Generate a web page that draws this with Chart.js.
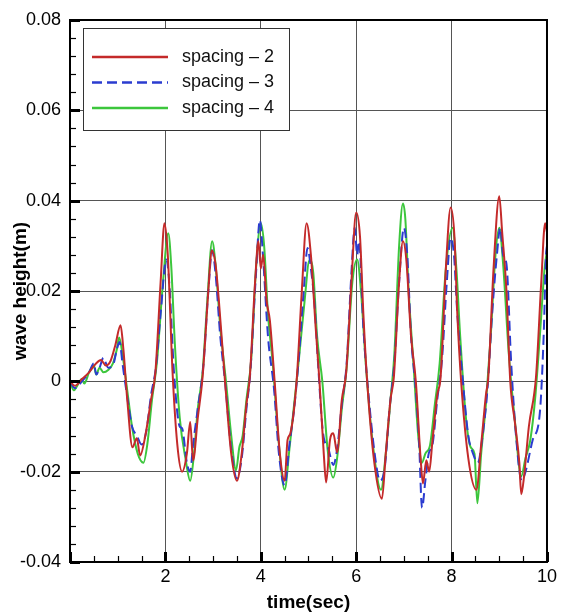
<!DOCTYPE html>
<html>
<head>
<meta charset="utf-8">
<script src="https://cdn.jsdelivr.net/npm/chart.js@4.4.1/dist/chart.umd.min.js"></script>
<style>
  html, body { margin: 0; padding: 0; background: #fff; }
  #wrap { width: 561px; height: 616px; }
</style>
</head>
<body>
<div id="wrap"><canvas id="chart" width="561" height="616"></canvas></div>
<script>
// wave height vs time for three spacings
const labels = ['spacing \u2013 2', 'spacing \u2013 3', 'spacing \u2013 4'];
const xTicks = [2, 4, 6, 8, 10];
const yTicks = [-0.04, -0.02, 0, 0.02, 0.04, 0.06, 0.08];

const time2 = [0, 0.1, 0.25, 0.4, 0.55, 0.65, 0.75, 0.85, 0.95, 1.06, 1.12, 1.2, 1.31, 1.4, 1.47, 1.58, 1.7, 1.79, 1.9, 1.98,
  2.05, 2.15, 2.25, 2.35, 2.45, 2.52, 2.58, 2.68, 2.78, 2.9, 2.97, 3.05, 3.12, 3.25, 3.38, 3.5, 3.6, 3.7, 3.77, 3.88, 3.95,
  4.0, 4.05, 4.12, 4.19, 4.29, 4.4, 4.5, 4.56, 4.62, 4.75, 4.86, 4.96, 5.05, 5.15, 5.23, 5.32, 5.37, 5.45, 5.52, 5.6, 5.7,
  5.79, 5.9, 6.0, 6.08, 6.15, 6.23, 6.38, 6.54, 6.62, 6.72, 6.79, 6.9, 6.98, 7.05, 7.15, 7.25, 7.35, 7.4, 7.47, 7.53, 7.6,
  7.7, 7.77, 7.88, 7.98, 8.06, 8.12, 8.2, 8.35, 8.52, 8.62, 8.72, 8.77, 8.88, 9.0, 9.06, 9.15, 9.23, 9.33, 9.42, 9.46, 9.52,
  9.62, 9.77, 9.88, 9.96, 10.0];
const wave2 = [0, -0.001, 0.0005, 0.002, 0.004, 0.0047, 0.0035, 0.0045, 0.008, 0.0124, 0.007, -0.004, -0.0146, -0.0126, -0.0164, -0.012, -0.004, 0.002, 0.022, 0.035,
  0.028, 0.002, -0.014, -0.020, -0.016, -0.009, -0.0175, -0.008, 0.001, 0.020, 0.029, 0.026, 0.018, 0.000, -0.016, -0.022, -0.016, -0.005, 0.001, 0.022, 0.031,
  0.025, 0.028, 0.018, 0.0135, 0.000, -0.016, -0.022, -0.013, -0.0115, 0.000, 0.020, 0.035, 0.028, 0.012, 0.000, -0.016, -0.0224, -0.013, -0.0115, -0.0157, -0.004,
  0.002, 0.022, 0.0374, 0.032, 0.015, 0.000, -0.018, -0.026, -0.016, -0.004, 0.001, 0.022, 0.031, 0.027, 0.010, 0.000, -0.017, -0.0226, -0.0175, -0.020, -0.013,
  -0.003, 0.001, 0.025, 0.0385, 0.032, 0.015, 0.000, -0.017, -0.024, -0.014, -0.003, 0.001, 0.025, 0.041, 0.033, 0.020, 0.000, -0.0093, -0.018, -0.025, -0.021,
  -0.010, 0.001, 0.022, 0.035, 0.033];

const time3 = [0, 0.1, 0.25, 0.4, 0.5, 0.55, 0.62, 0.7, 0.8, 0.9, 0.98, 1.04, 1.1, 1.18, 1.3, 1.4, 1.5, 1.6, 1.7, 1.8, 1.9, 2.02,
  2.08, 2.18, 2.3, 2.35, 2.45, 2.52, 2.58, 2.68, 2.8, 2.9, 2.98, 3.05, 3.15, 3.25, 3.38, 3.5, 3.6, 3.7, 3.78, 3.9, 3.98,
  4.05, 4.15, 4.28, 4.38, 4.5, 4.6, 4.7, 4.78, 4.9, 4.98, 5.05, 5.12, 5.2, 5.3, 5.42, 5.52, 5.6, 5.7, 5.8, 5.9, 5.97,
  6.02, 6.06, 6.15, 6.25, 6.4, 6.5, 6.6, 6.7, 6.8, 6.9, 7.0, 7.07, 7.15, 7.25, 7.32, 7.38, 7.45, 7.52, 7.6, 7.7, 7.8, 7.9,
  7.98, 8.05, 8.12, 8.22, 8.35, 8.45, 8.55, 8.65, 8.75, 8.85, 8.95, 9.02, 9.08, 9.15, 9.25, 9.35, 9.47, 9.55, 9.7, 9.85,
  9.93, 9.98, 10.0];
const wave3 = [0, -0.0015, 0, 0.002, 0.004, 0.0015, 0.003, 0.0052, 0.003, 0.0035, 0.007, 0.0087, 0.004, -0.002, -0.010, -0.012, -0.014, -0.011, -0.003, 0.003, 0.015, 0.027,
  0.022, 0.002, -0.010, -0.0104, -0.018, -0.020, -0.014, -0.006, 0.004, 0.020, 0.029, 0.024, 0.010, 0.000, -0.015, -0.0215, -0.017, -0.006, 0.002, 0.024, 0.0357,
  0.027, 0.010, -0.002, -0.016, -0.023, -0.014, -0.006, 0.003, 0.020, 0.0295, 0.025, 0.018, 0.004, -0.011, -0.015, -0.0185, -0.015, -0.005, 0.004, 0.024, 0.034,
  0.028, 0.031, 0.012, -0.002, -0.017, -0.022, -0.019, -0.006, 0.004, 0.022, 0.034, 0.028, 0.010, -0.002, -0.014, -0.028, -0.022, -0.016, -0.014, -0.004, 0.005, 0.022,
  0.0317, 0.028, 0.015, 0.002, -0.012, -0.016, -0.018, -0.012, -0.002, 0.015, 0.028, 0.034, 0.028, 0.026, 0.004, -0.012, -0.022, -0.020, -0.013, -0.007,
  0.010, 0.028, 0.030];

const time4 = [0, 0.08, 0.15, 0.25, 0.3, 0.4, 0.5, 0.55, 0.62, 0.7, 0.8, 0.9, 0.98, 1.03, 1.1, 1.2, 1.3, 1.42, 1.54, 1.62, 1.72, 1.82, 1.95,
  2.06, 2.12, 2.2, 2.3, 2.42, 2.52, 2.6, 2.68, 2.78, 2.88, 2.98, 3.05, 3.15, 3.27, 3.38, 3.48, 3.55, 3.62, 3.7, 3.8, 3.9,
  4.0, 4.07, 4.15, 4.25, 4.38, 4.5, 4.6, 4.7, 4.8, 4.92, 5.02, 5.1, 5.18, 5.29, 5.4, 5.52, 5.6, 5.7, 5.8, 5.92, 6.02, 6.1,
  6.2, 6.35, 6.52, 6.62, 6.72, 6.8, 6.9, 6.98, 7.03, 7.1, 7.2, 7.3, 7.38, 7.45, 7.55, 7.65, 7.75, 7.88, 8.02, 8.1, 8.18,
  8.3, 8.4, 8.48, 8.54, 8.62, 8.72, 8.82, 8.92, 9.0, 9.08, 9.2, 9.32, 9.46, 9.55, 9.65, 9.75, 9.85, 9.95, 10.0];
const wave4 = [0, -0.002, -0.001, 0.0005, -0.0005, 0.002, 0.0035, 0.0015, 0.003, 0.002, 0.0025, 0.004, 0.007, 0.0097, 0.006, -0.002, -0.010, -0.016, -0.018, -0.014, -0.004, 0.004, 0.022,
  0.0328, 0.026, 0.008, -0.008, -0.017, -0.022, -0.016, -0.006, 0.002, 0.018, 0.031, 0.026, 0.012, 0.000, -0.012, -0.0197, -0.0146, -0.012, -0.004, 0.005, 0.025,
  0.035, 0.030, 0.015, 0.004, -0.014, -0.024, -0.015, -0.005, 0.005, 0.018, 0.0268, 0.024, 0.010, 0.000, -0.015, -0.0213, -0.017, -0.006, 0.003, 0.022, 0.027, 0.020,
  0.004, -0.014, -0.024, -0.016, -0.004, 0.006, 0.030, 0.0394, 0.036, 0.020, 0.004, -0.012, -0.018, -0.016, -0.014, -0.005, 0.004, 0.025, 0.034, 0.025, 0.010,
  -0.008, -0.0146, -0.016, -0.027, -0.016, -0.005, 0.010, 0.028, 0.034, 0.026, 0.006, -0.008, -0.021, -0.017, -0.013, -0.004, 0.010, 0.025, 0.029];

const colors = ['#c42a2a', '#2b3cd0', '#3cc63c'];
const FONT = '"Liberation Sans", Arial, sans-serif';

function pts(ts, ys) { return ts.map((t, i) => ({ x: t, y: ys[i] })); }

// frame, inward tick marks and the legend box
const decor = {
  id: 'decor',
  afterDraw(chart) {
    const { ctx, chartArea: a, scales } = chart;
    const xs = scales.x, ys = scales.y;
    ctx.save();
    ctx.strokeStyle = '#000';
    ctx.lineWidth = 2;
    ctx.strokeRect(a.left, a.top, a.right - a.left, a.bottom - a.top);
    // x ticks every 0.5, major every 2
    for (let i = 0; i <= 20; i++) {
      const v = i * 0.5;
      const px = Math.round(xs.getPixelForValue(v)) + 0.5;
      const major = i % 4 === 0;
      ctx.lineWidth = major ? 3 : 1.2;
      ctx.beginPath();
      ctx.moveTo(px, a.bottom);
      ctx.lineTo(px, a.bottom - (major ? 10 : 6));
      ctx.stroke();
    }
    // y ticks every 0.004, major every 0.02
    for (let i = 0; i <= 30; i++) {
      const v = -0.04 + i * 0.004;
      const py = Math.round(ys.getPixelForValue(v)) + 0.5;
      const major = i % 5 === 0;
      ctx.lineWidth = major ? 3 : 1.2;
      ctx.beginPath();
      ctx.moveTo(a.left, py);
      ctx.lineTo(a.left + (major ? 10 : 6), py);
      ctx.stroke();
    }
    // legend
    const bx = 83, by = 28, bw = 206, bh = 102;
    ctx.fillStyle = '#fff';
    ctx.fillRect(bx, by, bw, bh);
    ctx.lineWidth = 1;
    ctx.strokeStyle = '#333';
    ctx.strokeRect(bx + 0.5, by + 0.5, bw, bh);
    chart.data.datasets.forEach((ds, i) => {
      const y = 57 + i * 25.5;
      ctx.strokeStyle = ds.borderColor;
      ctx.lineWidth = 2.5;
      ctx.setLineDash(ds.borderDash || []);
      ctx.beginPath();
      ctx.moveTo(92, y);
      ctx.lineTo(168, y);
      ctx.stroke();
      ctx.setLineDash([]);
      ctx.fillStyle = '#111';
      ctx.font = '18px ' + FONT;
      ctx.textBaseline = 'middle';
      ctx.fillText(ds.label, 182, y);
    });
    ctx.restore();
  }
};

new Chart(document.getElementById('chart'), {
  type: 'line',
  data: {
    datasets: [
      { label: labels[0], data: pts(time2, wave2), borderColor: colors[0], borderWidth: 2 },
      { label: labels[1], data: pts(time3, wave3), borderColor: colors[1], borderWidth: 2, borderDash: [10, 5] },
      { label: labels[2], data: pts(time4, wave4), borderColor: colors[2], borderWidth: 2 },
    ],
  },
  options: {
    responsive: false,
    animation: false,
    layout: { padding: { top: 20, right: 12, left: 0, bottom: 0 } },
    elements: { point: { radius: 0 }, line: { cubicInterpolationMode: 'monotone', fill: false } },
    plugins: { legend: { display: false }, tooltip: { enabled: false } },
    scales: {
      x: {
        type: 'linear', min: 0, max: 10,
        afterBuildTicks: s => { s.ticks = [0].concat(xTicks).map(v => ({ value: v })); },
        afterFit: s => { s.height = 54; },
        ticks: { padding: 4, color: '#000', font: { family: FONT, size: 18 },
          callback: v => (v === 0 ? '' : String(v)) },
        grid: { color: '#555', lineWidth: 1, drawTicks: false },
        border: { display: false },
        title: { display: true, text: 'time(sec)', color: '#000', padding: { top: 0, bottom: 2 },
          font: { family: FONT, size: 19, weight: 'bold' } },
      },
      y: {
        type: 'linear', min: -0.04, max: 0.08,
        afterBuildTicks: s => { s.ticks = yTicks.map(v => ({ value: v })); },
        afterFit: s => { s.width = 70; },
        ticks: { padding: 9, color: '#000', font: { family: FONT, size: 18 },
          callback: v => (Math.abs(v) < 1e-9 ? '0' : v.toFixed(2)) },
        grid: { color: '#555', lineWidth: 1, drawTicks: false },
        border: { display: false },
        title: { display: true, text: 'wave height(m)', color: '#000', padding: { top: 9, bottom: 0 },
          font: { family: FONT, size: 19, weight: 'bold' } },
      },
    },
  },
  plugins: [decor],
});
</script>
</body>
</html>
